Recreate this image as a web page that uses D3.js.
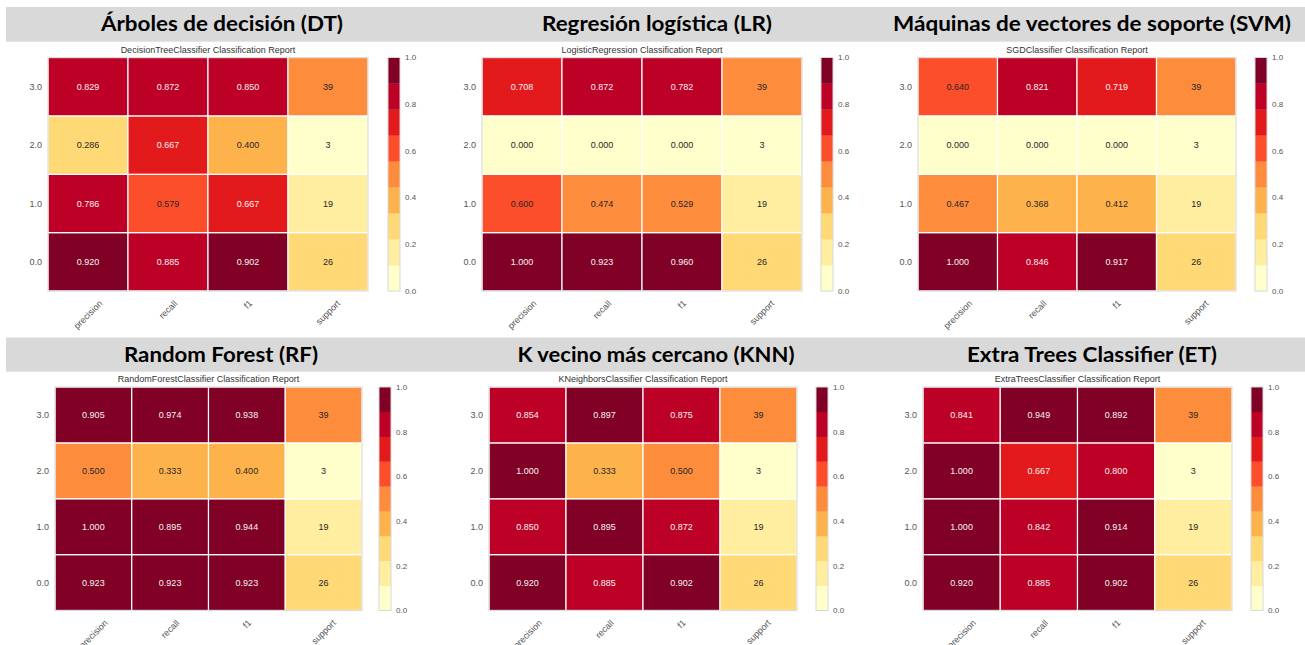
<!DOCTYPE html>
<html>
<head>
<meta charset="utf-8">
<script src="https://cdn.jsdelivr.net/npm/d3@7/dist/d3.min.js"></script>
<style>
  html, body { margin: 0; padding: 0; background: #ffffff; }
  svg { display: block; }
  .lbl { font-family: "Liberation Sans", Arial, sans-serif; }
</style>
</head>
<body>
<svg id="chart" width="1305" height="645"></svg>
<script>
// Classification report values per model (index = class 0.0 .. 3.0)
const classes = ["0.0", "1.0", "2.0", "3.0"];
const metrics = ["precision", "recall", "f1", "support"];
const support = [26, 19, 3, 39];

const dtPrecision = [0.920, 0.786, 0.286, 0.829];
const dtRecall    = [0.885, 0.579, 0.667, 0.872];
const dtF1        = [0.902, 0.667, 0.400, 0.850];

const lrPrecision = [1.000, 0.600, 0.000, 0.708];
const lrRecall    = [0.923, 0.474, 0.000, 0.872];
const lrF1        = [0.960, 0.529, 0.000, 0.782];

const sgdPrecision = [1.000, 0.467, 0.000, 0.640];
const sgdRecall    = [0.846, 0.368, 0.000, 0.821];
const sgdF1        = [0.917, 0.412, 0.000, 0.719];

const rfPrecision = [0.923, 1.000, 0.500, 0.905];
const rfRecall    = [0.923, 0.895, 0.333, 0.974];
const rfF1        = [0.923, 0.944, 0.400, 0.938];

const knnPrecision = [0.920, 0.850, 1.000, 0.854];
const knnRecall    = [0.885, 0.895, 0.333, 0.897];
const knnF1        = [0.902, 0.872, 0.500, 0.875];

const etPrecision = [0.920, 1.000, 1.000, 0.841];
const etRecall    = [0.885, 0.842, 0.667, 0.949];
const etF1        = [0.902, 0.914, 0.800, 0.892];

const headings = [
  "Árboles de decisión (DT)", "Regresión logística (LR)", "Máquinas de vectores de soporte (SVM)",
  "Random Forest (RF)", "K vecino más cercano (KNN)", "Extra Trees Classifier (ET)"
];
const reportTitles = [
  "DecisionTreeClassifier Classification Report", "LogisticRegression Classification Report",
  "SGDClassifier Classification Report", "RandomForestClassifier Classification Report",
  "KNeighborsClassifier Classification Report", "ExtraTreesClassifier Classification Report"
];
const colorbarTicks = [0.0, 0.2, 0.4, 0.6, 0.8, 1.0];

// YlOrRd, 9 discrete steps
const palette = ["#ffffcc", "#ffeda0", "#fed976", "#feb24c", "#fd8d3c", "#fc4e2a", "#e31a1c", "#bd0026", "#800026"];

const models = [
  [dtPrecision, dtRecall, dtF1],
  [lrPrecision, lrRecall, lrF1],
  [sgdPrecision, sgdRecall, sgdF1],
  [rfPrecision, rfRecall, rfF1],
  [knnPrecision, knnRecall, knnF1],
  [etPrecision, etRecall, etF1]
];

// Panel geometry
const layout = [
  { hx: 48,  hy: 57.5, hw: 320, hh: 233.5, cbx: 388,  titleX: 222,  titleW: 242, row: 0 },
  { hx: 482, hy: 57.5, hw: 320, hh: 233.5, cbx: 821,  titleX: 657,  titleW: 230, row: 0 },
  { hx: 918, hy: 57.5, hw: 318, hh: 233.5, cbx: 1255, titleX: 1092, titleW: 398, row: 0 },
  { hx: 55,  hy: 387,  hw: 307, hh: 223.5, cbx: 379,  titleX: 221,  titleW: 194, row: 1 },
  { hx: 489, hy: 387,  hw: 308, hh: 223.5, cbx: 816,  titleX: 656,  titleW: 277, row: 1 },
  { hx: 923, hy: 387,  hw: 309, hh: 223.5, cbx: 1251, titleX: 1092, titleW: 250, row: 1 }
];
const headerBands = [{ y: 7, h: 34.7, base: 31 }, { y: 337.5, h: 34.2, base: 361.5 }];

const svg = d3.select("#chart");

// grey heading bands
headerBands.forEach(b => {
  svg.append("rect").attr("x", 6).attr("y", b.y).attr("width", 1299).attr("height", b.h).attr("fill", "#d9d9d9");
});

// colour lookup: boundaries at ninths, compared at the report's 3-decimal precision
const thresholds = d3.range(1, 9).map(i => Math.round(i / 9 * 1000) / 1000);
const color = d3.scaleThreshold().domain(thresholds).range(palette);
const textColor = v => (palette.indexOf(color(v)) >= 6 ? "#f7f4f4" : "#262626");

const totalSupport = d3.sum(support);

models.forEach((m, k) => {
  const L = layout[k];
  const band = headerBands[L.row];
  const g = svg.append("g");

  // heading
  g.append("text")
    .attr("x", L.titleX).attr("y", band.base)
    .attr("text-anchor", "middle")
    .attr("textLength", L.titleW).attr("lengthAdjust", "spacingAndGlyphs")
    .style("font-family", "Lato, 'Open Sans', sans-serif")
    .style("font-weight", 700).style("font-size", "20.5px").attr("fill", "#000")
    .text(headings[k]);

  const x = d3.scaleBand().domain(metrics).range([L.hx, L.hx + L.hw]);
  const y = d3.scaleBand().domain(classes.slice().reverse()).range([L.hy, L.hy + L.hh]);

  // report title
  g.append("text").attr("class", "lbl")
    .attr("x", L.hx + L.hw / 2).attr("y", L.hy - 5)
    .attr("text-anchor", "middle").style("font-size", "9px").attr("fill", "#333")
    .text(reportTitles[k]);

  const cells = [];
  classes.forEach((c, i) => {
    metrics.forEach((met, j) => {
      if (met === "support") {
        cells.push({ c, met, v: support[i] / totalSupport, label: String(support[i]) });
      } else {
        cells.push({ c, met, v: m[j][i], label: m[j][i].toFixed(3) });
      }
    });
  });

  g.selectAll("rect.cell").data(cells).enter().append("rect")
    .attr("class", "cell")
    .attr("x", d => x(d.met)).attr("y", d => y(d.c))
    .attr("width", x.bandwidth()).attr("height", y.bandwidth())
    .attr("fill", d => color(d.v))
    .attr("stroke", "#ffffff").attr("stroke-width", 1.2);

  // outer frame
  g.append("rect").attr("x", L.hx).attr("y", L.hy).attr("width", L.hw).attr("height", L.hh)
    .attr("fill", "none").attr("stroke", "#dcdcdc").attr("stroke-width", 1.2);

  g.selectAll("text.val").data(cells).enter().append("text")
    .attr("class", "lbl val")
    .attr("x", d => x(d.met) + x.bandwidth() / 2)
    .attr("y", d => y(d.c) + y.bandwidth() / 2)
    .attr("dy", "0.35em").attr("text-anchor", "middle")
    .style("font-size", "9px").attr("fill", d => textColor(d.v))
    .text(d => d.label);

  // class labels
  g.selectAll("text.ytick").data(classes).enter().append("text")
    .attr("class", "lbl ytick")
    .attr("x", L.hx - 6).attr("y", d => y(d) + y.bandwidth() / 2)
    .attr("dy", "0.35em").attr("text-anchor", "end")
    .style("font-size", "9px").attr("fill", "#555")
    .text(d => d);

  // metric labels, rotated 45 degrees about their centre
  const bottom = L.hy + L.hh;
  g.selectAll("text.xtick").data(metrics).enter().append("text")
    .attr("class", "lbl xtick")
    .attr("text-anchor", "middle").attr("dy", "0.35em")
    .style("font-size", "9px").attr("fill", "#555")
    .text(d => d)
    .each(function (d) {
      const len = this.getComputedTextLength();
      const half = (len + 8) * Math.SQRT1_2 / 2;
      d3.select(this).attr("transform",
        `translate(${x(d) + x.bandwidth() / 2},${bottom + 8 + half}) rotate(-45)`);
    });

  // colour bar
  const cbW = 12;
  const cy = d3.scaleLinear().domain([0, 1]).range([L.hy + L.hh, L.hy]);
  const steps = [0].concat(d3.range(1, 9).map(i => i / 9)).map((s, i) => ({ lo: s, hi: (i + 1) / 9, c: palette[i] }));
  g.selectAll("rect.cb").data(steps).enter().append("rect")
    .attr("x", L.cbx).attr("y", d => cy(d.hi)).attr("width", cbW)
    .attr("height", d => cy(d.lo) - cy(d.hi) + 0.3)
    .attr("fill", d => d.c);
  g.append("rect").attr("x", L.cbx).attr("y", L.hy).attr("width", cbW).attr("height", L.hh)
    .attr("fill", "none").attr("stroke", "#d8d8d8").attr("stroke-width", 1);
  g.selectAll("text.cbt").data(colorbarTicks).enter().append("text")
    .attr("class", "lbl cbt")
    .attr("x", L.cbx + cbW + 5).attr("y", d => cy(d))
    .attr("dy", "0.35em")
    .style("font-size", "8px").attr("fill", "#555")
    .text(d => d.toFixed(1));
});
</script>
</body>
</html>
